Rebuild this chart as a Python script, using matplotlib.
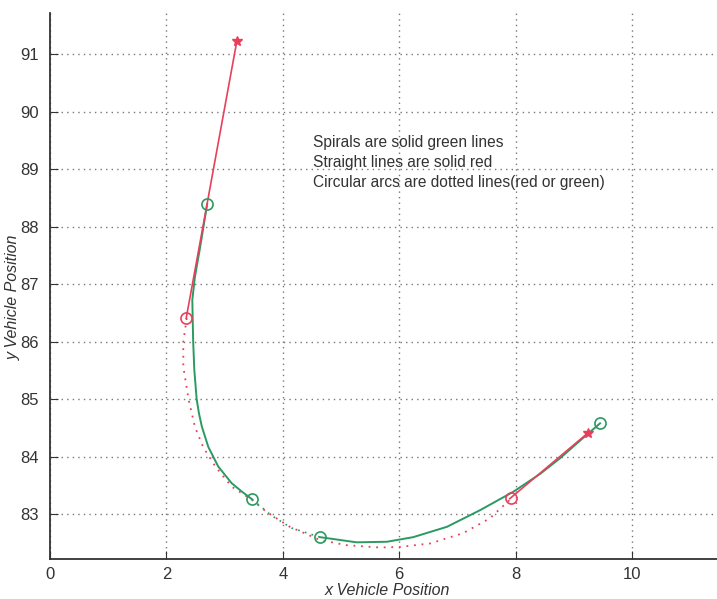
import matplotlib
matplotlib.use("Agg")
import matplotlib.pyplot as plt

# straight line pieces (solid red)
line1_x = [3.21, 2.34]
line1_y = [91.23, 86.41]
line2_x = [7.90, 9.25]
line2_y = [83.27, 84.42]

# spirals (solid green), read top to bottom / left to right
spiral1_x = [2.70, 2.58, 2.49, 2.445, 2.45, 2.46, 2.48, 2.52, 2.56, 2.61, 2.72, 2.89, 3.12, 3.30, 3.47]
spiral1_y = [88.39, 87.65, 87.13, 86.73, 86.49, 86.00, 85.50, 85.00, 84.75, 84.52, 84.17, 83.83, 83.54, 83.39, 83.26]
spiral2_x = [4.64, 5.27, 5.79, 6.24, 6.82, 7.39, 7.96, 8.42, 8.76, 9.22, 9.45]
spiral2_y = [82.60, 82.51, 82.52, 82.60, 82.78, 83.07, 83.39, 83.70, 83.97, 84.38, 84.58]

# circular arcs (dotted)
arc_green_x = [3.47, 3.80, 4.15, 4.64]
arc_green_y = [83.26, 82.98, 82.76, 82.60]
arc_red_x = [2.35, 2.29, 2.29, 2.38, 2.49, 2.63, 2.84, 3.12, 3.47, 3.72, 4.12, 4.64, 5.10, 5.67, 6.01, 6.53, 7.10, 7.56, 7.90]
arc_red_y = [86.41, 86.00, 85.57, 85.00, 84.52, 84.17, 83.83, 83.48, 83.25, 83.04, 82.78, 82.55, 82.46, 82.42, 82.43, 82.49, 82.67, 82.93, 83.25]

# markers
red_circ_x = [2.34, 7.92]
red_circ_y = [86.41, 83.28]
green_circ_x = [2.70, 3.47, 4.64, 9.45]
green_circ_y = [88.39, 83.26, 82.60, 84.58]
star_x = [3.21, 9.24]
star_y = [91.23, 84.41]

notes = ["Spirals are solid green lines",
         "Straight lines are solid red",
         "Circular arcs are dotted lines(red or green)"]

red = "#e8405a"
green = "#2a9a62"

plt.rcParams['font.family'] = ['Liberation Sans', 'DejaVu Sans']

fig = plt.figure(figsize=(7.17, 5.99), dpi=100)
ax = fig.add_axes([50 / 717, 40 / 599, 667 / 717, 546 / 599])

ax.plot(arc_red_x, arc_red_y, color=red, lw=1.3, linestyle=(0, (1, 3.2)))
ax.plot(arc_green_x, arc_green_y, color=green, lw=1.2, linestyle=(0, (1, 3.2)))
ax.plot(spiral1_x, spiral1_y, color=green, lw=1.4)
ax.plot(spiral2_x, spiral2_y, color=green, lw=1.4)
ax.plot(line1_x, line1_y, color=red, lw=1.2)
ax.plot(line2_x, line2_y, color=red, lw=1.2)
ax.plot(red_circ_x, red_circ_y, 'o', ms=8, mfc='none', mec=red, mew=1.2)
ax.plot(green_circ_x, green_circ_y, 'o', ms=8, mfc='none', mec=green, mew=1.2)
ax.plot(star_x, star_y, '*', ms=7, color=red)

for i, t in enumerate(notes):
    ax.text(4.52, 89.47 - i * 0.35, t, fontsize=11.2, va='center', ha='left', color='#333333')

ax.set_xlim(0, 11.46)
ax.set_ylim(82.22, 91.72)
ax.set_xticks([0, 2, 4, 6, 8, 10])
ax.set_yticks([83, 84, 85, 86, 87, 88, 89, 90, 91])
ax.tick_params(direction='in', length=6, labelsize=12, colors='#333333')
ax.tick_params(axis='x', pad=6)
ax.tick_params(axis='y', pad=8)
ax.grid(True, color='#777777', linestyle=(0, (1, 3)), lw=1)
for s in ['top', 'right']:
    ax.spines[s].set_visible(False)
for s in ['left', 'bottom']:
    ax.spines[s].set_linewidth(1.3)
    ax.spines[s].set_color('#333333')

ax.set_xlabel('x Vehicle Position', fontsize=11.5, style='italic', color='#333333')
ax.set_ylabel('y Vehicle Position', fontsize=11.5, style='italic', color='#333333')
ax.xaxis.set_label_coords(337 / 667, -24 / 546)
ax.yaxis.set_label_coords(-29 / 667, (559 - 297) / 546)

fig.savefig('out.png', dpi=100)
